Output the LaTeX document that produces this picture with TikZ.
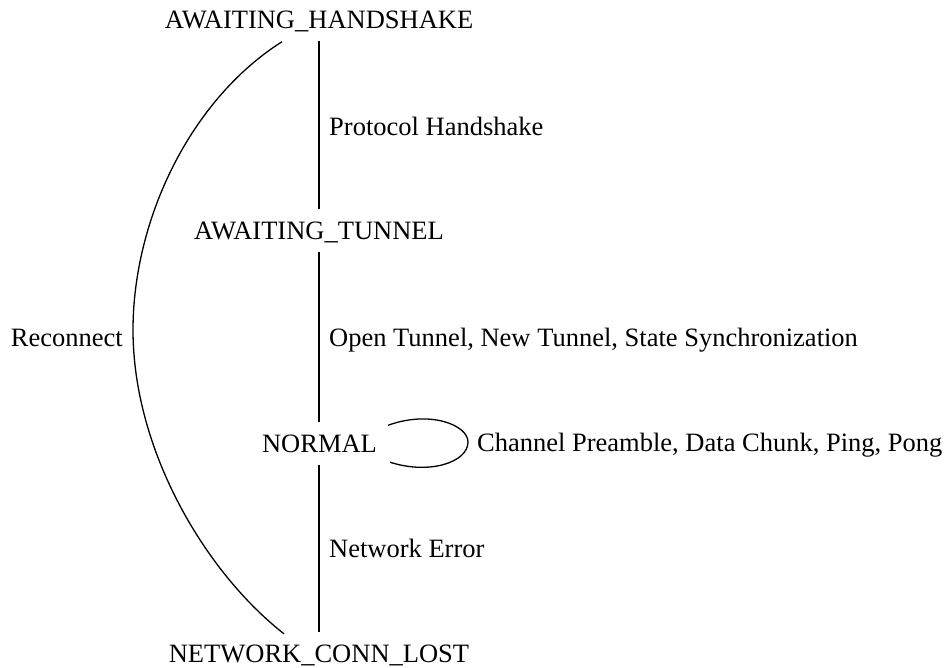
\documentclass[tikz,border=0pt]{standalone}
\usepackage{fontspec}
\setmainfont{Liberation Serif}
\usetikzlibrary{calc}
\tikzset{
  state/.style={font=\fontsize{26.5}{31}\selectfont, text height=17.5pt, text depth=0pt,
    inner xsep=0pt, inner ysep=12.5pt, anchor=base},
  lbl/.style={font=\fontsize{26.5}{31}\selectfont, inner sep=0pt},
  conn/.style={line width=1.3pt, black},
}
\begin{document}
\begin{tikzpicture}[x=1pt,y=-1pt]
\useasboundingbox (0,0) rectangle (947,667);
\node[state] (AH) at (319,28) {AWAITING\_HANDSHAKE};
\node[state] (AT) at (319,239.5) {AWAITING\_TUNNEL};
\node[state] (N) at (319.5,452) {NORMAL};
\node[state] (NCL) at (319,662) {NETWORK\_CONN\_LOST};

\draw[conn] (AH.south -| 319,0) -- (AT.north -| 319,0);
\draw[conn] (AT.south -| 319,0) -- (N.north -| 319,0);
\draw[conn] (N.south -| 319,0) -- (NCL.north -| 319,0);

\node[lbl, anchor=base west] (l1) at (329,135) {Protocol Handshake};
\node[lbl, anchor=base west] (l2) at (329,346) {Open Tunnel, New Tunnel, State Synchronization};
\node[lbl, anchor=base west] (l3) at (329,557) {Network Error};
\node[lbl, anchor=base east] (l4) at (123,346) {Reconnect};
\node[lbl, anchor=base west] (l5) at (477,451) {Channel Preamble, Data Chunk, Ping, Pong};

\draw[conn] ($(AH.south)+(-37,1)$) .. controls (190,100) and (133,220) .. (133,330)
  .. controls (133,450) and (205,572) .. ($(NCL.north)+(-35,2)$);

\draw[conn] ($(N.east)+(11,-18)$) .. controls (430,410) and (468,425) .. (468,442)
  .. controls (468,462) and (430,475) .. ($(N.east)+(13,19)$);
\end{tikzpicture}
\end{document}
